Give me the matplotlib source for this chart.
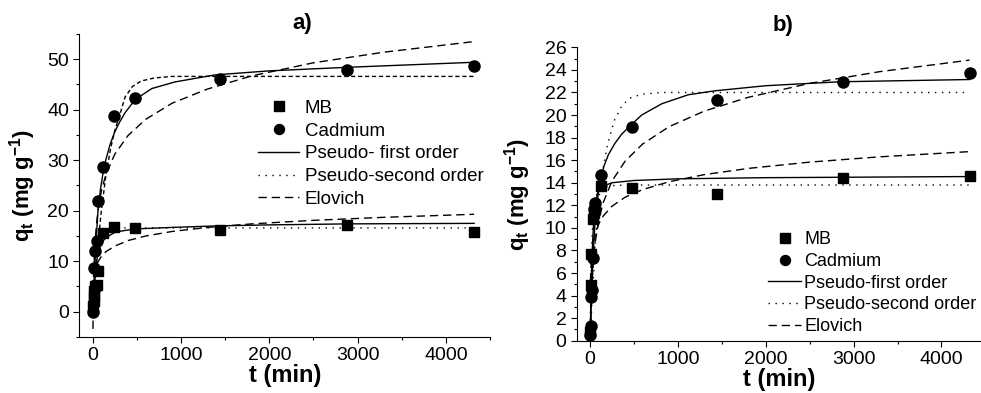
import matplotlib
matplotlib.use('Agg')
import matplotlib.pyplot as plt
from matplotlib.ticker import MultipleLocator

plt.rcParams['font.family'] = ['Liberation Sans', 'DejaVu Sans']
plt.rcParams['mathtext.fontset'] = 'custom'
plt.rcParams['mathtext.rm'] = 'Liberation Sans'
plt.rcParams['mathtext.bf'] = 'Liberation Sans:bold'

# ---- panel a) measured points ----
a_mb_t = [5, 10, 15, 20, 30, 45, 60, 120, 240, 480, 1440, 2880, 4320]
a_mb_q = [1.2, 2.2, 3.2, 4.2, 5.0, 5.2, 8.0, 15.5, 16.8, 16.6, 16.1, 17.1, 15.8]
a_cd_t = [0, 15, 30, 45, 60, 120, 240, 480, 1440, 2880, 4320]
a_cd_q = [0.0, 8.7, 12.1, 14.1, 21.9, 28.6, 38.8, 42.3, 46.0, 47.9, 48.6]

# ---- panel a) model curves ----
a_cd_pfo_t = [0, 20, 40, 60, 90, 120, 150, 200, 250, 300, 366, 480, 670, 930, 1385, 2000, 2880, 4320]
a_cd_pfo_q = [0, 8.0, 14.5, 20.0, 24.5, 27.8, 30.2, 33.3, 35.6, 37.4, 39.4, 42.0, 44.2, 45.5, 46.9, 47.7, 48.4, 49.4]
a_cd_pso_t = [0, 30, 60, 100, 150, 200, 250, 300, 366, 450, 550, 700, 900, 4320]
a_cd_pso_q = [0, 7.5, 13.6, 20.3, 27.1, 32.1, 35.9, 38.6, 42.5, 44.6, 45.7, 46.3, 46.6, 46.6]
a_cd_elo_t = [3, 5, 10, 20, 40, 60, 100, 150, 250, 400, 600, 900, 1300, 1800, 2500, 3300, 4320]
a_cd_elo_q = [-3.4, 0.6, 6.0, 11.5, 16.9, 20.1, 24.1, 27.2, 31.2, 34.9, 38.1, 41.3, 44.1, 46.7, 49.3, 51.4, 53.5]

a_mb_pfo_t = [0, 20, 40, 60, 90, 130, 180, 250, 330, 480, 900, 1400, 2000, 2900, 4320]
a_mb_pfo_q = [0, 5.0, 9.5, 11.5, 13.2, 14.3, 15.0, 15.7, 16.0, 16.4, 16.7, 17.0, 17.2, 17.4, 17.5]
a_mb_pso_t = [0, 20, 40, 60, 90, 130, 200, 300, 4320]
a_mb_pso_q = [0, 7.0, 11.5, 14.0, 15.5, 16.2, 16.5, 16.6, 16.6]
a_mb_elo_t = [5, 10, 20, 40, 60, 100, 150, 250, 400, 600, 900, 1300, 1800, 2500, 3300, 4320]
a_mb_elo_q = [4.4, 5.9, 7.5, 9.0, 9.9, 11.0, 11.9, 13.0, 14.1, 15.0, 15.9, 16.7, 17.4, 18.1, 18.7, 19.3]

# ---- panel b) measured points ----
b_mb_t = [5, 10, 15, 30, 45, 60, 120, 480, 1440, 2880, 4320]
b_mb_q = [0.8, 4.9, 7.7, 10.8, 11.3, 11.7, 13.7, 13.5, 13.0, 14.45, 14.6]
b_cd_t = [5, 10, 15, 20, 30, 45, 60, 120, 480, 1440, 2880, 4320]
b_cd_q = [0.5, 1.3, 3.9, 4.5, 7.3, 11.7, 12.2, 14.7, 18.9, 21.3, 22.9, 23.7]

# ---- panel b) model curves ----
b_cd_pfo_t = [0, 15, 30, 45, 60, 90, 120, 160, 210, 284, 360, 436, 588, 816, 1119, 1422, 2000, 2844, 4320]
b_cd_pfo_q = [0, 3.5, 6.5, 9.0, 10.8, 12.8, 14.3, 15.5, 16.5, 17.5, 18.3, 18.9, 20.0, 21.0, 21.8, 22.15, 22.6, 22.95, 23.15]
b_cd_pso_t = [0, 30, 60, 100, 150, 200, 276, 360, 455, 588, 816, 4320]
b_cd_pso_q = [0, 4.5, 8.5, 12.5, 15.3, 17.4, 19.5, 20.8, 21.5, 21.85, 22.0, 22.0]
b_cd_elo_t = [5, 10, 20, 40, 60, 100, 150, 250, 400, 600, 900, 1300, 1800, 2500, 3300, 4320]
b_cd_elo_q = [-0.56, 2.05, 4.66, 7.26, 8.78, 10.71, 12.23, 14.15, 15.92, 17.44, 18.97, 20.35, 21.57, 22.81, 23.85, 24.87]

b_mb_pfo_t = [0, 10, 20, 30, 45, 60, 90, 150, 250, 500, 1000, 2000, 4320]
b_mb_pfo_q = [0, 3.5, 6.5, 8.8, 11.0, 12.2, 13.2, 13.7, 14.0, 14.2, 14.35, 14.45, 14.55]
b_mb_pso_t = [0, 10, 20, 30, 45, 60, 90, 150, 250, 400, 4320]
b_mb_pso_q = [0, 5.0, 8.5, 10.3, 11.8, 12.6, 13.2, 13.6, 13.75, 13.8, 13.8]
b_mb_elo_t = [5, 10, 20, 40, 60, 100, 150, 250, 400, 600, 900, 1300, 1800, 2500, 3300, 4320]
b_mb_elo_q = [5.27, 6.44, 7.62, 8.80, 9.49, 10.36, 11.05, 11.92, 12.72, 13.40, 14.09, 14.72, 15.27, 15.83, 16.30, 16.76]

DOT = (0, (1, 4))
DASH = (0, (6, 3.5))
SHORT = (0, (3, 2))
LW = 1.0

fig = plt.figure(figsize=(9.81, 3.93), dpi=100)
ax1 = fig.add_axes([0.081, 0.1425, 0.4185, 0.771])
ax2 = fig.add_axes([0.588, 0.133, 0.412, 0.7465])


def style(ax):
    for s in ('top', 'right'):
        ax.spines[s].set_visible(False)
    ax.tick_params(which='both', direction='out', labelsize=14, width=0.8)
    ax.tick_params(which='major', length=4.5, pad=3)
    ax.tick_params(which='minor', length=2.5)
    ax.xaxis.set_major_locator(MultipleLocator(1000))
    ax.xaxis.set_minor_locator(MultipleLocator(500))
    ax.set_xlabel('t (min)', fontsize=17, fontweight='bold', labelpad=0)
    ax.set_ylabel(r'q$_\mathbf{t}$ (mg g$^\mathbf{-1}$)', fontsize=16, fontweight='bold')


# panel a
ax1.plot(a_cd_pfo_t, a_cd_pfo_q, 'k-', lw=LW)
ax1.plot(a_cd_pso_t, a_cd_pso_q, color='k', ls=SHORT, lw=LW)
ax1.plot(a_cd_elo_t, a_cd_elo_q, color='k', ls=DASH, lw=LW)
ax1.plot(a_mb_pfo_t, a_mb_pfo_q, 'k-', lw=LW)
ax1.plot(a_mb_pso_t, a_mb_pso_q, color='k', ls=DOT, lw=LW)
ax1.plot(a_mb_elo_t, a_mb_elo_q, color='k', ls=DASH, lw=LW)
mb1, = ax1.plot(a_mb_t, a_mb_q, 'ks', ms=7.5, ls='none', label='MB')
cd1, = ax1.plot(a_cd_t, a_cd_q, 'ko', ms=8, ls='none', label='Cadmium')
h1, = ax1.plot([], [], 'k-', lw=LW, label='Pseudo- first order')
h2, = ax1.plot([], [], color='k', ls=DOT, lw=LW, label='Pseudo-second order')
h3, = ax1.plot([], [], color='k', ls=DASH, lw=LW, label='Elovich')
ax1.set_xlim(-150, 4500)
ax1.set_ylim(-5, 55)
ax1.yaxis.set_major_locator(MultipleLocator(10))
ax1.yaxis.set_minor_locator(MultipleLocator(5))
style(ax1)
ax1.yaxis.set_label_coords(-0.101, 0.5)
ax1.legend(handles=[mb1, cd1, h1, h2, h3], loc='upper left', bbox_to_anchor=(0.435, 0.783),
           frameon=False, fontsize=13.5, handlelength=2.2, handletextpad=0.3,
           labelspacing=0.3, borderpad=0, borderaxespad=0, markerscale=0.9)

# panel b
ax2.plot(b_cd_pfo_t, b_cd_pfo_q, 'k-', lw=LW)
ax2.plot(b_cd_pso_t, b_cd_pso_q, color='k', ls=DOT, lw=LW)
ax2.plot(b_cd_elo_t, b_cd_elo_q, color='k', ls=DASH, lw=LW)
ax2.plot(b_mb_pfo_t, b_mb_pfo_q, 'k-', lw=LW)
ax2.plot(b_mb_pso_t, b_mb_pso_q, color='k', ls=DOT, lw=LW)
ax2.plot(b_mb_elo_t, b_mb_elo_q, color='k', ls=DASH, lw=LW)
mb2, = ax2.plot(b_mb_t, b_mb_q, 'ks', ms=7.5, ls='none', label='MB')
cd2, = ax2.plot(b_cd_t, b_cd_q, 'ko', ms=8, ls='none', label='Cadmium')
g1, = ax2.plot([], [], 'k-', lw=LW, label='Pseudo-first order')
g2, = ax2.plot([], [], color='k', ls=DOT, lw=LW, label='Pseudo-second order')
g3, = ax2.plot([], [], color='k', ls=DASH, lw=LW, label='Elovich')
ax2.set_xlim(-150, 4450)
ax2.set_ylim(0, 26)
ax2.yaxis.set_major_locator(MultipleLocator(2))
ax2.yaxis.set_minor_locator(MultipleLocator(1))
style(ax2)
ax2.yaxis.set_label_coords(-0.108, 0.5)
ax2.legend(handles=[mb2, cd2, g1, g2, g3], loc='upper left', bbox_to_anchor=(0.473, 0.373),
           frameon=False, fontsize=13, handlelength=1.85, handletextpad=0.15,
           labelspacing=0.26, borderpad=0, borderaxespad=0, markerscale=0.9)

# panel letters
fig.text(302 / 981, 1 - 23 / 393, 'a)', fontsize=16, fontweight='bold', ha='center', va='center')
fig.text(783 / 981, 1 - 25 / 393, 'b)', fontsize=16, fontweight='bold', ha='center', va='center')

fig.savefig('out.png', dpi=100)
